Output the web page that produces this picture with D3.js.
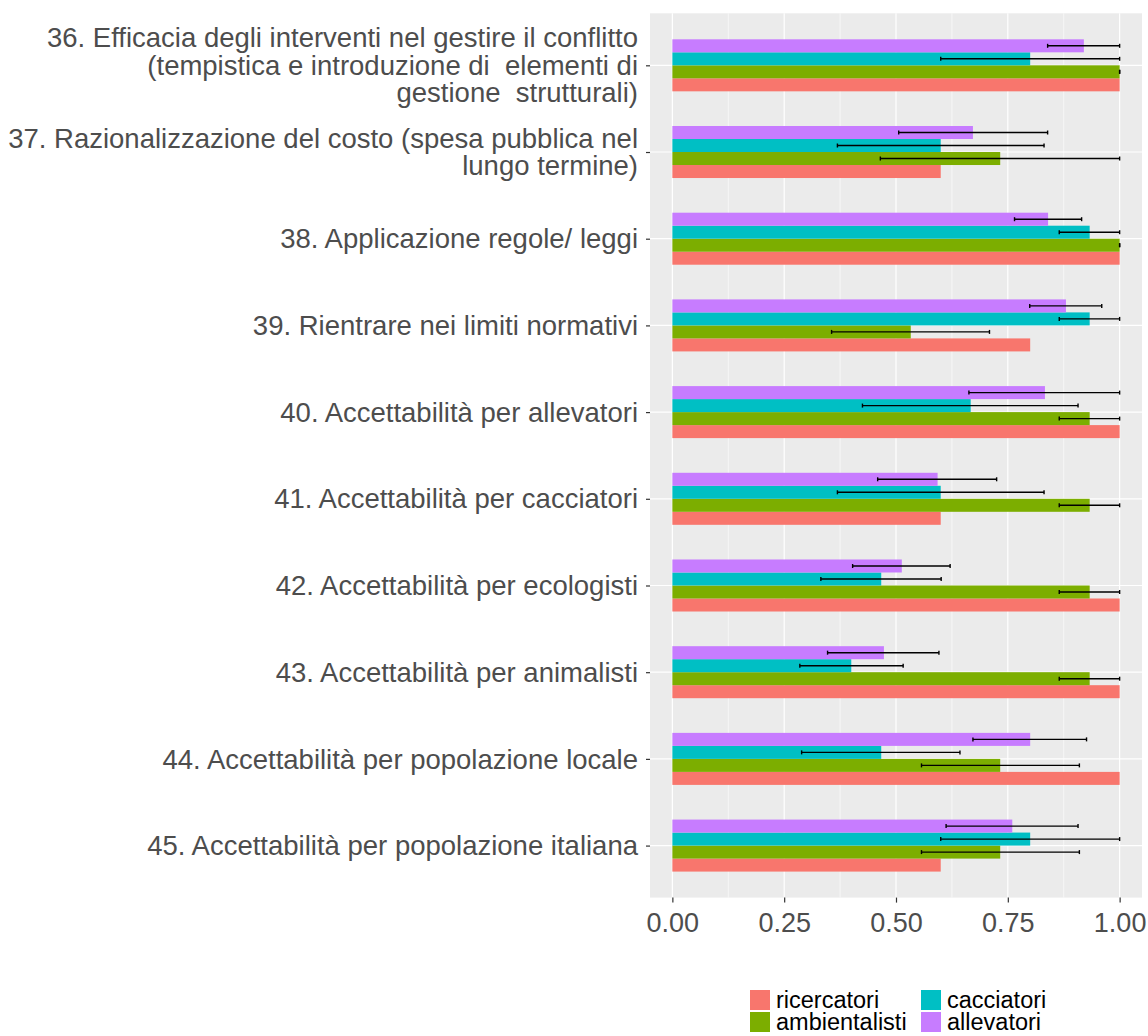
<!DOCTYPE html>
<html lang="it">
<head>
    <meta charset="UTF-8">
    <title>Accettabilità</title>
    <script src="https://cdn.jsdelivr.net/npm/d3@7"></script>
    <style>
        html, body {
            margin: 0;
            padding: 0;
            background: #fff;
            overflow: hidden;
        }
        text {
            font-family: "Liberation Sans", Arial, Helvetica, sans-serif;
            white-space: pre;
        }
    </style>
</head>
<body>
</body>
<script>
    let width = 1148;
    let height = 1036;

    // categorie, dall'alto verso il basso
    let categories = [
        "36. Efficacia degli interventi nel gestire il conflitto\n(tempistica e introduzione di  elementi di\ngestione  strutturali)",
        "37. Razionalizzazione del costo (spesa pubblica nel\nlungo termine)",
        "38. Applicazione regole/ leggi",
        "39. Rientrare nei limiti normativi",
        "40. Accettabilità per allevatori",
        "41. Accettabilità per cacciatori",
        "42. Accettabilità per ecologisti",
        "43. Accettabilità per animalisti",
        "44. Accettabilità per popolazione locale",
        "45. Accettabilità per popolazione italiana"
    ];

    let seriesNames = ["ricercatori", "ambientalisti", "cacciatori", "allevatori"];
    let seriesColors = ["#F8766D", "#7CAE00", "#00BFC4", "#C77CFF"];

    let ricercatori = [1, 0.6, 1, 0.8, 1, 0.6, 1, 1, 1, 0.6];
    let ambientalisti = [1, 0.733, 1, 0.533, 0.933, 0.933, 0.933, 0.933, 0.733, 0.733];
    let cacciatori = [0.8, 0.6, 0.933, 0.933, 0.667, 0.6, 0.467, 0.4, 0.467, 0.8];
    let allevatori = [0.92, 0.672, 0.84, 0.88, 0.833, 0.593, 0.513, 0.473, 0.8, 0.76];

    // intervalli (null = nessuna barra d'errore)
    let ricercatoriLo = [null, null, null, null, null, null, null, null, null, null];
    let ricercatoriHi = [null, null, null, null, null, null, null, null, null, null];
    let ambientalistiLo = [1, 0.465, 1, 0.356, 0.865, 0.865, 0.865, 0.865, 0.557, 0.557];
    let ambientalistiHi = [1, 1, 1, 0.709, 1, 1, 1, 1, 0.91, 0.91];
    let cacciatoriLo = [0.6, 0.369, 0.865, 0.865, 0.425, 0.369, 0.332, 0.285, 0.289, 0.6];
    let cacciatoriHi = [1, 0.831, 1, 1, 0.907, 0.831, 0.601, 0.516, 0.643, 1];
    let allevatoriLo = [0.839, 0.506, 0.765, 0.799, 0.663, 0.459, 0.403, 0.347, 0.672, 0.612];
    let allevatoriHi = [1, 0.839, 0.915, 0.96, 1, 0.725, 0.621, 0.596, 0.926, 0.907];

    let xTicks = [0, 0.25, 0.5, 0.75, 1];
    let xMinor = [0.125, 0.375, 0.625, 0.875];

    let values = [ricercatori, ambientalisti, cacciatori, allevatori];
    let lows = [ricercatoriLo, ambientalistiLo, cacciatoriLo, allevatoriLo];
    let highs = [ricercatoriHi, ambientalistiHi, cacciatoriHi, allevatoriHi];

    let rows = [];
    categories.forEach((c, i) => {
        seriesNames.forEach((s, j) => {
            rows.push({cat: c, series: s, value: values[j][i], lo: lows[j][i], hi: highs[j][i], color: seriesColors[j]});
        });
    });

    let panel = {left: 650, right: 1142, top: 13.3, bottom: 897.6};

    let x = d3.scaleLinear()
        .domain([-0.05, 1.05])
        .range([panel.left, panel.right]);

    let y = d3.scalePoint()
        .domain(categories)
        .range([panel.top, panel.bottom])
        .padding(0.6);

    let step = y.step();

    // allevatori in alto, ricercatori in basso
    let inner = d3.scaleBand()
        .domain(seriesNames.slice().reverse())
        .range([-0.3 * step, 0.3 * step]);

    let svg = d3.select('body').append('svg')
        .attr('width', width)
        .attr('height', height);

    svg.append('rect')
        .attr('x', panel.left)
        .attr('y', panel.top)
        .attr('width', panel.right - panel.left)
        .attr('height', panel.bottom - panel.top)
        .attr('fill', '#EBEBEB');

    // griglia
    let grid = svg.append('g');
    grid.selectAll('line.minor')
        .data(xMinor)
        .enter().append('line')
        .attr('x1', d => x(d)).attr('x2', d => x(d))
        .attr('y1', panel.top).attr('y2', panel.bottom)
        .attr('stroke', '#fff').attr('stroke-width', 0.6);
    grid.selectAll('line.major')
        .data(xTicks)
        .enter().append('line')
        .attr('x1', d => x(d)).attr('x2', d => x(d))
        .attr('y1', panel.top).attr('y2', panel.bottom)
        .attr('stroke', '#fff').attr('stroke-width', 1.2);
    grid.selectAll('line.ymajor')
        .data(categories)
        .enter().append('line')
        .attr('x1', panel.left).attr('x2', panel.right)
        .attr('y1', d => y(d)).attr('y2', d => y(d))
        .attr('stroke', '#fff').attr('stroke-width', 1.2);

    // barre
    svg.append('g').selectAll('rect')
        .data(rows)
        .enter().append('rect')
        .attr('x', x(0))
        .attr('y', d => y(d.cat) + inner(d.series))
        .attr('width', d => x(d.value) - x(0))
        .attr('height', inner.bandwidth())
        .attr('fill', d => d.color);

    // barre d'errore
    let err = svg.append('g').selectAll('g')
        .data(rows.filter(d => d.lo !== null))
        .enter().append('g')
        .attr('transform', d => `translate(0, ${y(d.cat) + inner(d.series) + inner.bandwidth() / 2})`);
    err.append('line')
        .attr('x1', d => x(d.lo)).attr('x2', d => x(d.hi))
        .attr('stroke', '#000').attr('stroke-width', 1.4);
    err.append('line')
        .attr('x1', d => x(d.lo)).attr('x2', d => x(d.lo))
        .attr('y1', -2).attr('y2', 2)
        .attr('stroke', '#000').attr('stroke-width', 1.4);
    err.append('line')
        .attr('x1', d => x(d.hi)).attr('x2', d => x(d.hi))
        .attr('y1', -2).attr('y2', 2)
        .attr('stroke', '#000').attr('stroke-width', 1.4);

    // asse x
    let xAxis = svg.append('g')
        .attr('transform', `translate(0, ${panel.bottom})`)
        .call(d3.axisBottom(x).tickValues(xTicks).tickFormat(d3.format('.2f')).tickSize(5).tickPadding(6));
    xAxis.select('.domain').remove();
    xAxis.selectAll('line').attr('stroke', '#333').attr('stroke-width', 1.2);
    xAxis.selectAll('text')
        .attr('fill', '#4D4D4D')
        .style('font-size', '27px')
        .attr('dy', '0.85em');

    // asse y
    let yAxis = svg.append('g')
        .attr('transform', `translate(${panel.left}, 0)`)
        .call(d3.axisLeft(y).tickSize(4).tickFormat(''));
    yAxis.select('.domain').remove();
    yAxis.selectAll('line').attr('stroke', '#333').attr('stroke-width', 1.2);

    let lineH = 27.5;
    let labels = svg.append('g').selectAll('text')
        .data(categories)
        .enter().append('text')
        .attr('text-anchor', 'end')
        .attr('fill', '#4D4D4D')
        .style('font-size', '27.5px');
    labels.each(function (d) {
        let parts = d.split('\n');
        let y0 = y(d) - (parts.length - 1) * lineH / 2;
        d3.select(this).selectAll('tspan')
            .data(parts)
            .enter().append('tspan')
            .attr('x', 638)
            .attr('y', (p, k) => y0 + k * lineH)
            .attr('dy', '0.35em')
            .text(p => p);
    });

    // legenda
    let legendPos = [[750, 990], [750, 1012], [921, 990], [921, 1012]];
    let legend = svg.append('g').selectAll('g')
        .data(seriesNames)
        .enter().append('g')
        .attr('transform', (d, i) => `translate(${legendPos[i][0]}, ${legendPos[i][1]})`);
    legend.append('rect')
        .attr('width', 20).attr('height', 20)
        .attr('fill', (d, i) => seriesColors[i]);
    legend.append('text')
        .attr('x', 26).attr('y', 10)
        .attr('dy', '0.36em')
        .attr('fill', '#000')
        .style('font-size', '23.5px')
        .text(d => d);
</script>
</html>
